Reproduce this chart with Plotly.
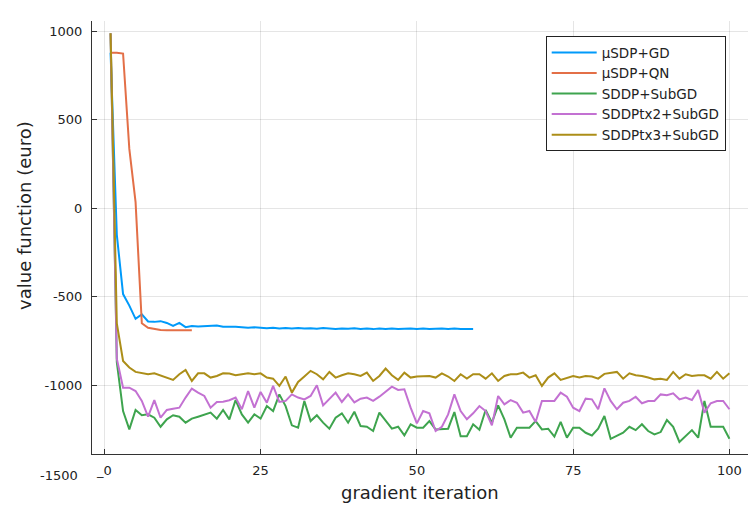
import plotly.graph_objects as go

iters_all = list(range(1, 101))

blue_vals = [880, -150, -485, -550, -625, -600, -640, -642, -638, -648,
             -665, -648, -672, -665, -668, -666, -668, -662, -670, -668,
             -670, -672, -675, -673, -676, -678, -675, -680, -677, -679,
             -676, -680, -678, -681, -677, -680, -682, -679, -681, -678,
             -682, -680, -683, -679, -682, -680, -683, -681, -679, -682,
             -680, -683, -681, -679, -682, -680, -683, -681, -682]

red_vals = [880, 880, 875, 336, 35, -650, -675, -683, -688, -690,
            -690, -690, -690, -690]

green_vals = [990, -870, -1146, -1250, -1140, -1170, -1165, -1184, -1235, -1193,
              -1170, -1178, -1212, -1189, -1178, -1165, -1155, -1189, -1140, -1193,
              -1084, -1165, -1212, -1165, -1189, -1118, -1146, -1052, -1118, -1227,
              -1240, -1089, -1203, -1170, -1212, -1246, -1184, -1159, -1212, -1150,
              -1231, -1235, -1259, -1155, -1203, -1246, -1235, -1284, -1221, -1240,
              -1240, -1203, -1250, -1246, -1246, -1152, -1288, -1288, -1221, -1252,
              -1140, -1212, -1114, -1193, -1297, -1240, -1240, -1240, -1203, -1250,
              -1246, -1291, -1208, -1297, -1240, -1240, -1269, -1284, -1246, -1174,
              -1303, -1288, -1269, -1235, -1254, -1221, -1259, -1278, -1265, -1197,
              -1235, -1321, -1288, -1254, -1297, -1089, -1235, -1235, -1235, -1303]

purple_vals = [990, -850, -1014, -1014, -1033, -1089, -1178, -1084, -1184, -1140,
               -1133, -1127, -1070, -1019, -1042, -1061, -1127, -1095, -1093, -1085,
               -1070, -1136, -1033, -1127, -1038, -1099, -1004, -1095, -1089, -1052,
               -1070, -1080, -1061, -1000, -1114, -1080, -1042, -1095, -1052, -1097,
               -1076, -1070, -1089, -1065, -1038, -1008, -1027, -1023, -1127, -1216,
               -1146, -1159, -1259, -1235, -1165, -1052, -1146, -1193, -1159, -1118,
               -1146, -1227, -1061, -1108, -1084, -1099, -1155, -1146, -1208, -1089,
               -1089, -1089, -1042, -1065, -1127, -1146, -1076, -1080, -1136, -1018,
               -1089, -1136, -1099, -1089, -1065, -1102, -1089, -1089, -1052, -1057,
               -1046, -1080, -1070, -1084, -1027, -1155, -1102, -1089, -1089, -1136]

gold_vals = [990, -650, -863, -900, -925, -933, -938, -933, -944, -957,
             -970, -938, -914, -976, -933, -933, -957, -948, -933, -934,
             -944, -938, -933, -938, -933, -957, -963, -1004, -951, -1042,
             -982, -951, -919, -938, -967, -925, -957, -944, -933, -938,
             -948, -929, -976, -948, -906, -944, -970, -929, -957, -951,
             -951, -948, -957, -933, -951, -976, -938, -963, -938, -938,
             -963, -933, -976, -948, -938, -938, -929, -957, -944, -1004,
             -957, -933, -970, -957, -948, -957, -948, -951, -963, -936,
             -929, -925, -963, -933, -944, -948, -957, -967, -963, -970,
             -925, -963, -938, -948, -944, -944, -963, -925, -963, -933]

series_names = ["μSDP+GD", "μSDP+QN", "SDDP+SubGD", "SDDPtx2+SubGD", "SDDPtx3+SubGD"]
series_vals = [blue_vals, red_vals, green_vals, purple_vals, gold_vals]
series_colors = ["#009AFA", "#E36F47", "#3EA44E", "#C371D2", "#AC8E18"]

x_tickvals = [0, 25, 50, 75, 100]
x_ticktext = ["_0", "25", "50", "75", "100"]
y_tickvals = [-1000, -500, 0, 500, 1000]
y_ticktext = ["-1000", "-500", "0", "500", "1000"]

FONT = "DejaVu Sans"

fig = go.Figure()
for name, vals, col in zip(series_names, series_vals, series_colors):
    fig.add_trace(go.Scatter(
        x=iters_all[:len(vals)], y=vals, mode="lines", name=name,
        line=dict(color=col, width=2),
    ))

axis_common = dict(
    showgrid=True, gridcolor="rgba(0,0,0,0.1)", gridwidth=1,
    zeroline=False, showline=True, linecolor="#333333", linewidth=1,
    ticks="inside", ticklen=5, tickcolor="#333333",
    tickfont=dict(family=FONT, size=13, color="#222222"),
    mirror=False, automargin=False,
)

fig.update_layout(
    width=748, height=505,
    margin=dict(l=92, r=0, t=21, b=51),
    paper_bgcolor="white", plot_bgcolor="white",
    font=dict(family=FONT, size=13, color="#222222"),
    xaxis=dict(range=[-1.97, 102.97], tickvals=x_tickvals, ticktext=x_ticktext,
               ticklabelstandoff=4, **axis_common),
    yaxis=dict(range=[-1389, 1059], tickvals=y_tickvals, ticktext=y_ticktext,
               ticklabelstandoff=6, **axis_common),
    showlegend=True,
    legend=dict(
        x=0.966, y=0.965, xanchor="right", yanchor="top",
        bgcolor="white", bordercolor="#222222", borderwidth=1,
        font=dict(family=FONT, size=13.5, color="#222222"),
        itemwidth=45, entrywidth=150, tracegroupgap=0,
    ),
    annotations=[
        dict(text="value function (euro)", xref="paper", yref="paper",
             x=-0.102, y=0.55, showarrow=False, textangle=-90,
             font=dict(family=FONT, size=18, color="#222222"),
             xanchor="center", yanchor="middle"),
        dict(text="gradient iteration", xref="paper", yref="paper",
             x=0.5, y=-0.09, showarrow=False,
             font=dict(family=FONT, size=18, color="#222222"),
             xanchor="center", yanchor="middle"),
        dict(text="-1500", xref="paper", yref="paper",
             x=-0.018, y=-0.0508, showarrow=False,
             font=dict(family=FONT, size=13, color="#222222"),
             xanchor="right", yanchor="middle"),
    ],
)

fig.write_html(
    "out.html",
    config={"displayModeBar": False},
    post_script="document.body.style.margin='0';document.body.style.overflow='hidden';",
)
